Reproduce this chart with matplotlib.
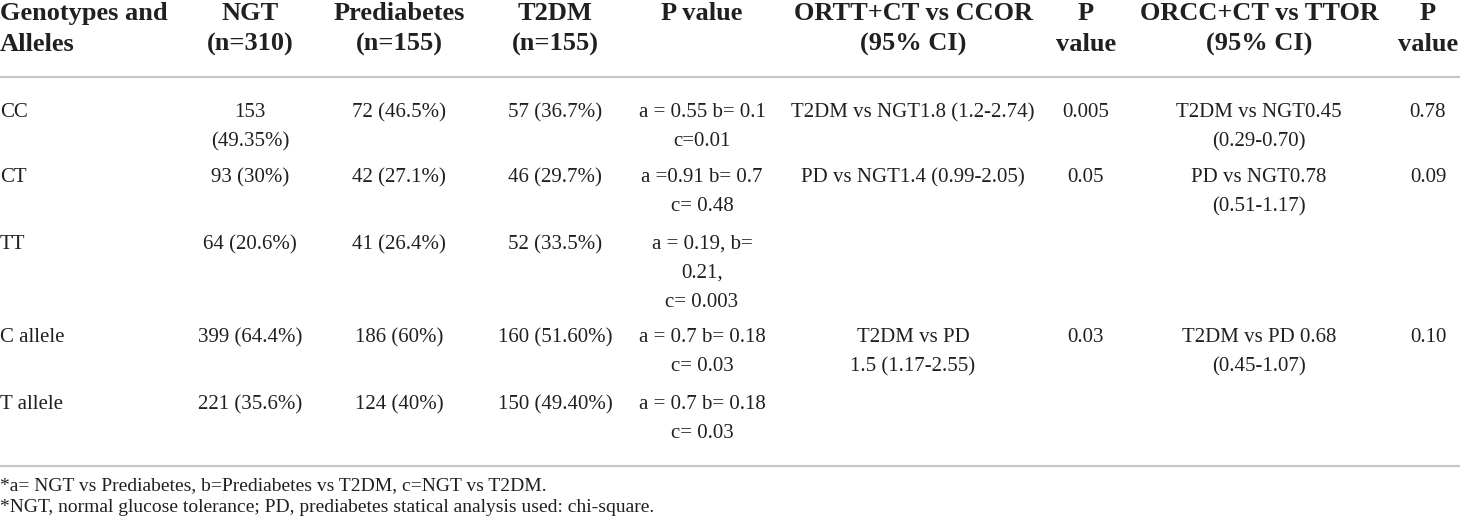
import matplotlib.pyplot as plt

# table contents
header = ["Genotypes and\nAlleles", "NGT\n(n=310)", "Prediabetes\n(n=155)", "T2DM\n(n=155)",
          "P value", "ORTT+CT vs CCOR\n(95% CI)", "P\nvalue", "ORCC+CT vs TTOR\n(95% CI)", "P\nvalue"]
genotypes = ["CC", "CT", "TT", "C allele", "T allele"]
ngt = ["153\n(49.35%)", "93 (30%)", "64 (20.6%)", "399 (64.4%)", "221 (35.6%)"]
prediabetes = ["72 (46.5%)", "42 (27.1%)", "41 (26.4%)", "186 (60%)", "124 (40%)"]
t2dm = ["57 (36.7%)", "46 (29.7%)", "52 (33.5%)", "160 (51.60%)", "150 (49.40%)"]
p_value = ["a = 0.55 b= 0.1\nc=0.01", "a =0.91 b= 0.7\nc= 0.48", "a = 0.19, b=\n0.21,\nc= 0.003",
           "a = 0.7 b= 0.18\nc= 0.03", "a = 0.7 b= 0.18\nc= 0.03"]
or_tt_ct = ["T2DM vs NGT1.8 (1.2-2.74)", "PD vs NGT1.4 (0.99-2.05)", "", "T2DM vs PD\n1.5 (1.17-2.55)", ""]
p_or1 = ["0.005", "0.05", "", "0.03", ""]
or_cc_ct = ["T2DM vs NGT0.45\n(0.29-0.70)", "PD vs NGT0.78\n(0.51-1.17)", "", "T2DM vs PD 0.68\n(0.45-1.07)", ""]
p_or2 = ["0.78", "0.09", "", "0.10", ""]
footnotes = ["*a= NGT vs Prediabetes, b=Prediabetes vs T2DM, c=NGT vs T2DM.",
             "*NGT, normal glucose tolerance; PD, prediabetes statical analysis used: chi-square."]

columns = [genotypes, ngt, prediabetes, t2dm, p_value, or_tt_ct, p_or1, or_cc_ct, p_or2]

# layout (pixels)
col_x = [0, 250, 399, 555, 702, 913, 1086, 1259, 1428]
row_base = [117, 182, 249, 342, 409]
line_gap = 29
head_base = 20
txt = "#231f20"
rule = "#c6c6c6"

fig = plt.figure(figsize=(14.6, 5.24), dpi=100)
ax = fig.add_axes([0, 0, 1, 1])
ax.set_xlim(0, 1460)
ax.set_ylim(524, 0)
ax.axis("off")

def cell(x, y0, s, ha, size, weight="normal", gap=line_gap):
    for i, line in enumerate(s.split("\n")):
        ax.text(x, y0 + i * gap, line, ha=ha, va="baseline", fontsize=size,
                fontweight=weight, color=txt, family="Liberation Serif")

for j, h in enumerate(header):
    cell(col_x[j], head_base, h, "left" if j == 0 else "center", 19, "bold", 31)

ax.plot([0, 1460], [77, 77], color=rule, lw=1.6)

for j, col in enumerate(columns):
    for i, s in enumerate(col):
        if s:
            cell(col_x[j], row_base[i], s, "left" if j == 0 else "center", 15)

ax.plot([0, 1460], [466, 466], color=rule, lw=1.6)

for i, f in enumerate(footnotes):
    ax.text(0, 490 + i * 22, f, ha="left", va="baseline", fontsize=14, color=txt,
            family="Liberation Serif")

fig.savefig("out.png", dpi=100)
